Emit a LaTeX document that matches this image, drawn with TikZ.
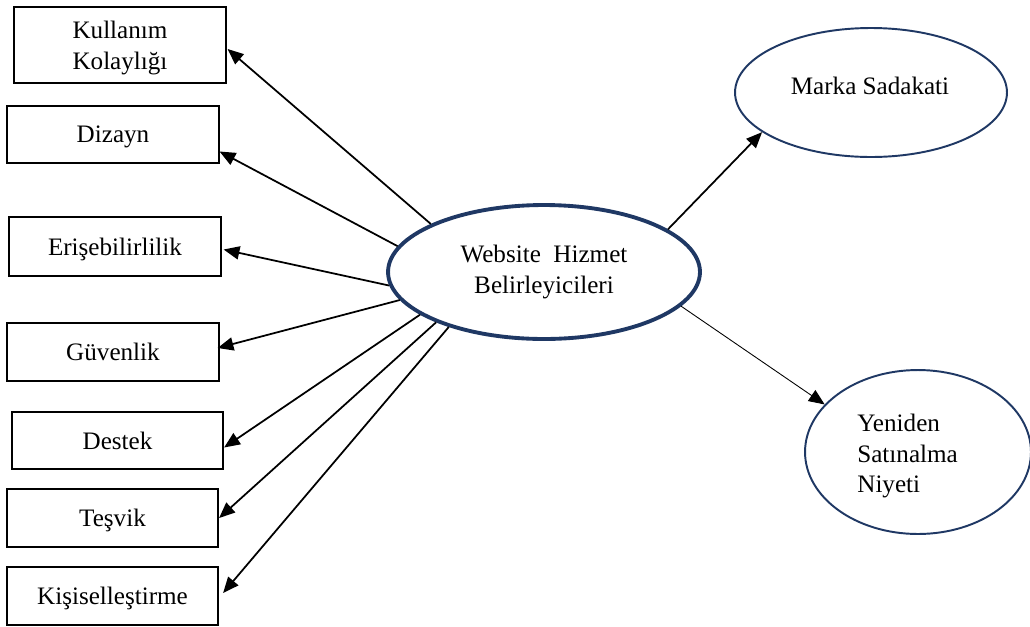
\documentclass[tikz,border=0pt]{standalone}
\usepackage{fontspec}
\setmainfont{Liberation Serif}
\usepackage{xcolor}
\usepackage{tikz}
\usetikzlibrary{shapes.geometric,arrows.meta,calc}

\definecolor{ovalblue}{RGB}{31,56,100}

\tikzset{
  factor/.style={draw, line width=1pt, minimum width=4.23cm, minimum height=1.15cm, inner sep=0pt, text depth=0pt, align=center},
  oval/.style={draw=ovalblue, ellipse, fill=white, inner sep=0pt, align=center},
  arr/.style={-{Triangle[length=9pt,width=7.5pt]}, line width=1pt},
}

\begin{document}
\begin{tikzpicture}[x=0.02cm, y=-0.02cm, font=\fontsize{14.3}{17.5}\selectfont]
  \useasboundingbox (0,0) rectangle (1030,626);

  % Draw factor boxes
  \node[factor, minimum height=1.52cm] (kul) at (120,45) {Kullanım\\Kolaylığı};
  \node[factor] (diz) at (113,134.5) {Dizayn};
  \node[factor, minimum height=1.18cm] (eri) at (115,246.5) {Erişebilirlilik};
  \node[factor] (guv) at (113,352) {Güvenlik};
  \node[factor] (des) at (117.5,440.5) {Destek};
  \node[factor] (tes) at (112.5,518) {Teşvik};
  \node[factor] (kis) at (112.5,596) {Kişiselleştirme};

  % Draw ellipses
  \node[oval, line width=2.2pt, minimum width=6.24cm, minimum height=2.68cm] (web) at (544,272)
    {Website\ \ Hizmet\\Belirleyicileri};
  \node[oval, line width=1.1pt, minimum width=5.44cm, minimum height=2.58cm] (mar) at (871,92.5) {};
  \node (martxt) at (870,86) {Marka Sadakati};
  \node[oval, line width=1.1pt, minimum width=4.52cm, minimum height=3.28cm] (yen) at (918,452) {};
  \node[anchor=west, align=left, inner sep=0pt] (yentxt) at (857,456) {Yeniden\\Satınalma\\Niyeti};

  % Draw arrows to factors
  \draw[arr] (web.157.6) -- ($(kul.east)+(1,4)$);
  \draw[arr] (web.170.9) -- ($(diz.east)+(0,17)$);
  \draw[arr] (web.185.7) -- ($(eri.east)+(2,3)$);
  \draw[arr] (web.191.2) -- ($(guv.east)+(-2,-4)$);
  \draw[arr] (web.199.4) -- ($(des.east)+(0,7)$);
  \draw[arr] (web.205.5) -- (tes.east);
  \draw[arr] (web.210.2) -- ($(kis.east)+(4,-3)$);

  % Draw arrows to outcomes
  \draw[arr] (web.19.1) -- (mar.200);
  \draw[arr, line width=0.5pt] (web.346.6) -- (yen.153);
\end{tikzpicture}
\end{document}
